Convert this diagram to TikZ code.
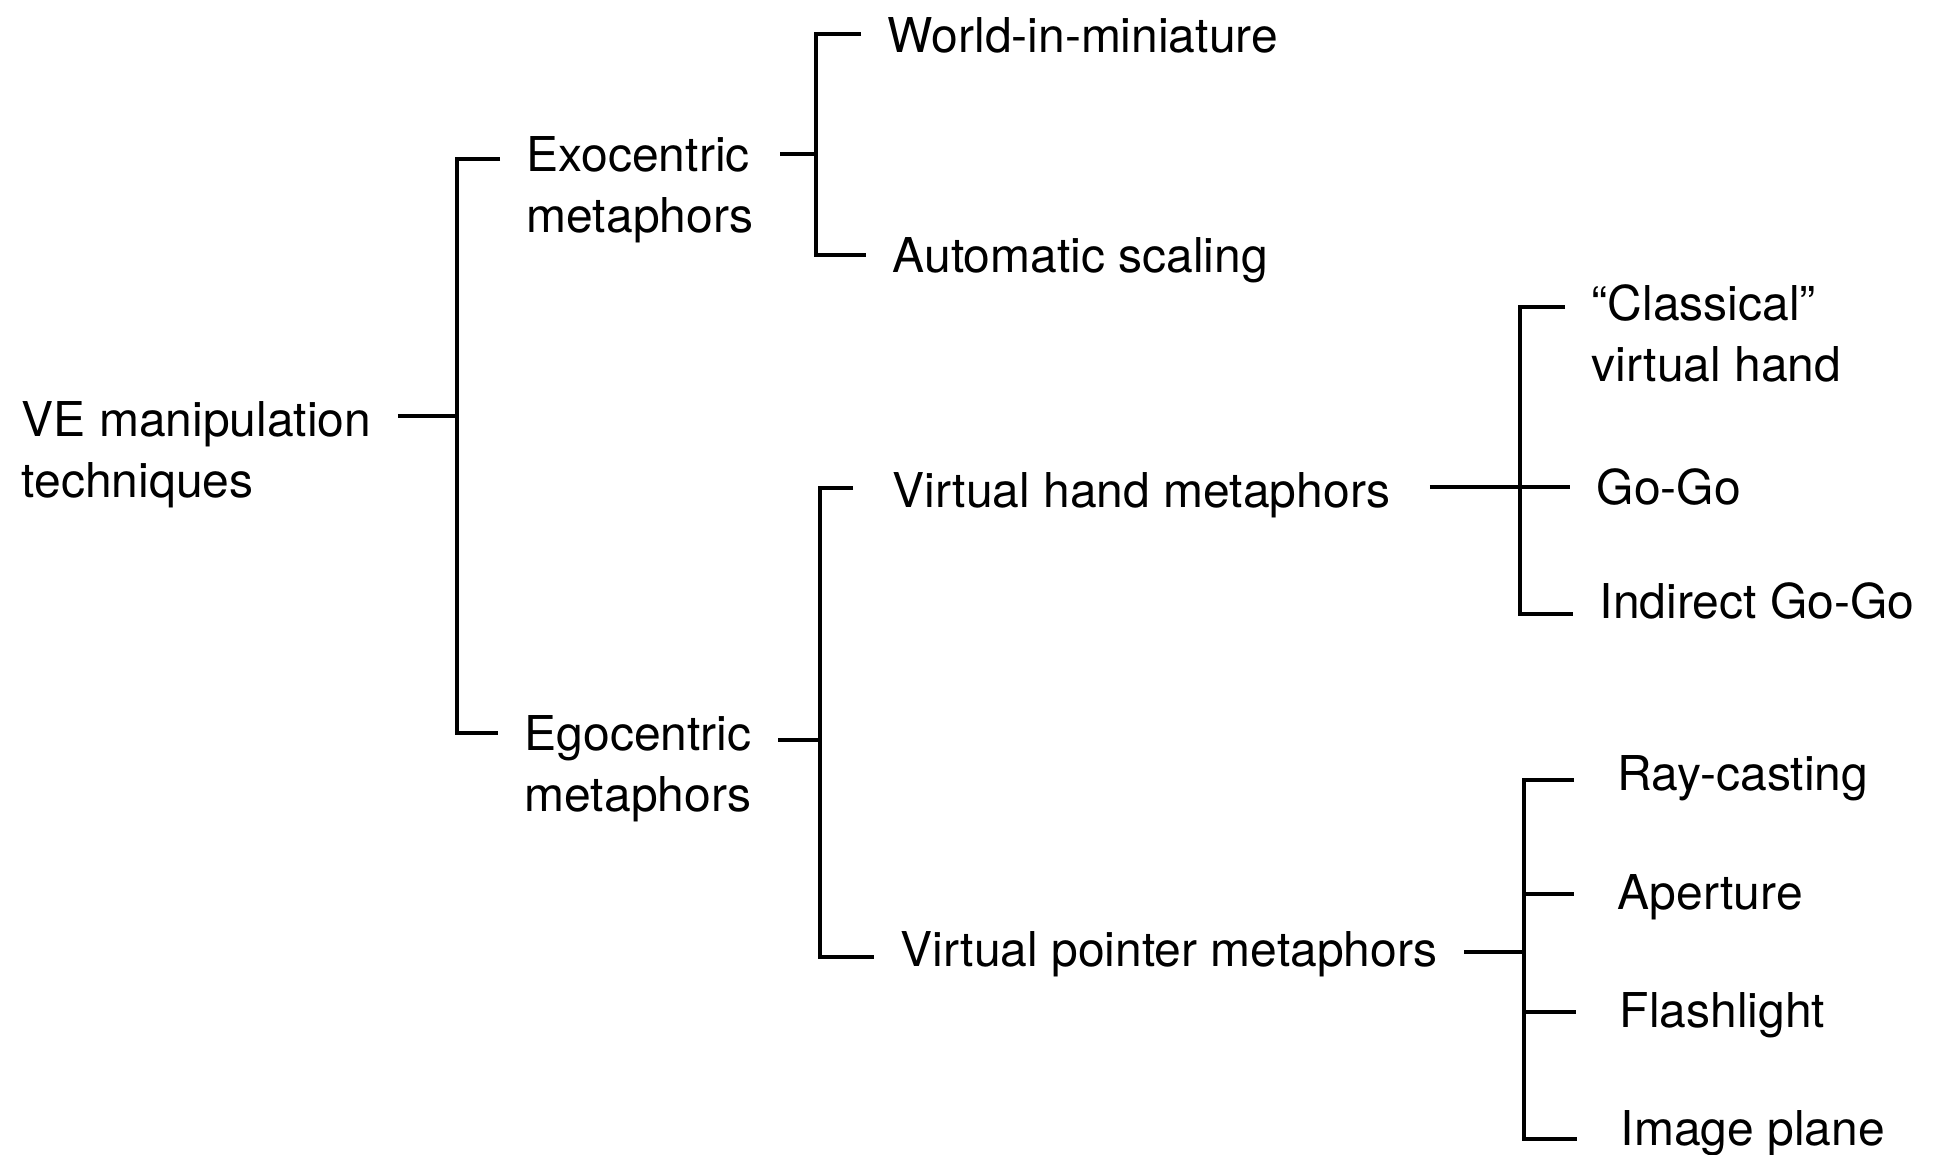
\documentclass[tikz,border=0pt]{standalone}
\usepackage{fontspec}
\setmainfont{TeX Gyre Heros}
\begin{document}
\begin{tikzpicture}[x=1pt,y=-1pt,line width=3.5pt]
\tikzstyle{every node}=[anchor=base west,inner xsep=25pt,inner ysep=0pt,align=left,
  font=\fontsize{48}{61}\selectfont];
\useasboundingbox (0,0) rectangle (1937,1154);
% labels (two-line ones sit on their last line)
\node (ve) at (-5,497) {VE manipulation\\techniques};
\node (ex) at (500,232) {Exocentric\\metaphors};
\node (eg) at (498,811) {Egocentric\\metaphors};
\node (wim) at (861,52) {World-in-miniature};
\node (auto) at (866,272) {Automatic scaling};
\node[inner xsep=38pt] (vh) at (853,507) {Virtual hand metaphors};
\node (vp) at (874,966) {Virtual pointer metaphors};
\node (cl) at (1565,381) {“Classical”\\virtual hand};
\node (gogo) at (1570,504) {Go-Go};
\node (ind) at (1573,618) {Indirect Go-Go};
\node[inner xsep=42pt] (ray) at (1574,790) {Ray-casting};
\node[inner xsep=42pt] (ap) at (1574,909) {Aperture};
\node[inner xsep=42pt] (fl) at (1576,1027) {Flashlight};
\node[inner xsep=42pt] (ip) at (1577,1145) {Image plane};
% junctions
\coordinate (r0) at (457,416);
\coordinate (r1) at (457,159);
\coordinate (r2) at (457,733);
\coordinate (x0) at (816,154);
\coordinate (x1) at (816,34);
\coordinate (x2) at (816,255);
\coordinate (g0) at (820,740);
\coordinate (g1) at (820,488);
\coordinate (g2) at (820,957);
\coordinate (h1) at (1520,307);
\coordinate (h0) at (1520,487);
\coordinate (h2) at (1520,614);
\coordinate (p0) at (1524,952);
\coordinate (p1) at (1524,780);
\coordinate (p2) at (1524,894);
\coordinate (p3) at (1524,1012);
\coordinate (p4) at (1524,1139);
% brackets
\draw (ve.east |- r0) -- (r0);
\draw (ex.west |- r1) -- (r1) -- (r2) -- (eg.west |- r2);
\draw (ex.east |- x0) -- (x0);
\draw (wim.west |- x1) -- (x1) -- (x2) -- (auto.west |- x2);
\draw (eg.east |- g0) -- (g0);
\draw (vh.west |- g1) -- (g1) -- (g2) -- (vp.west |- g2);
\draw (vh.east |- h0) -- (gogo.west |- h0);
\draw (cl.west |- h1) -- (h1) -- (h2) -- (ind.west |- h2);
\draw (vp.east |- p0) -- (p0);
\draw (ray.west |- p1) -- (p1) -- (p4) -- (ip.west |- p4);
\draw (p2) -- (ap.west |- p2);
\draw (p3) -- (fl.west |- p3);
\end{tikzpicture}
\end{document}
